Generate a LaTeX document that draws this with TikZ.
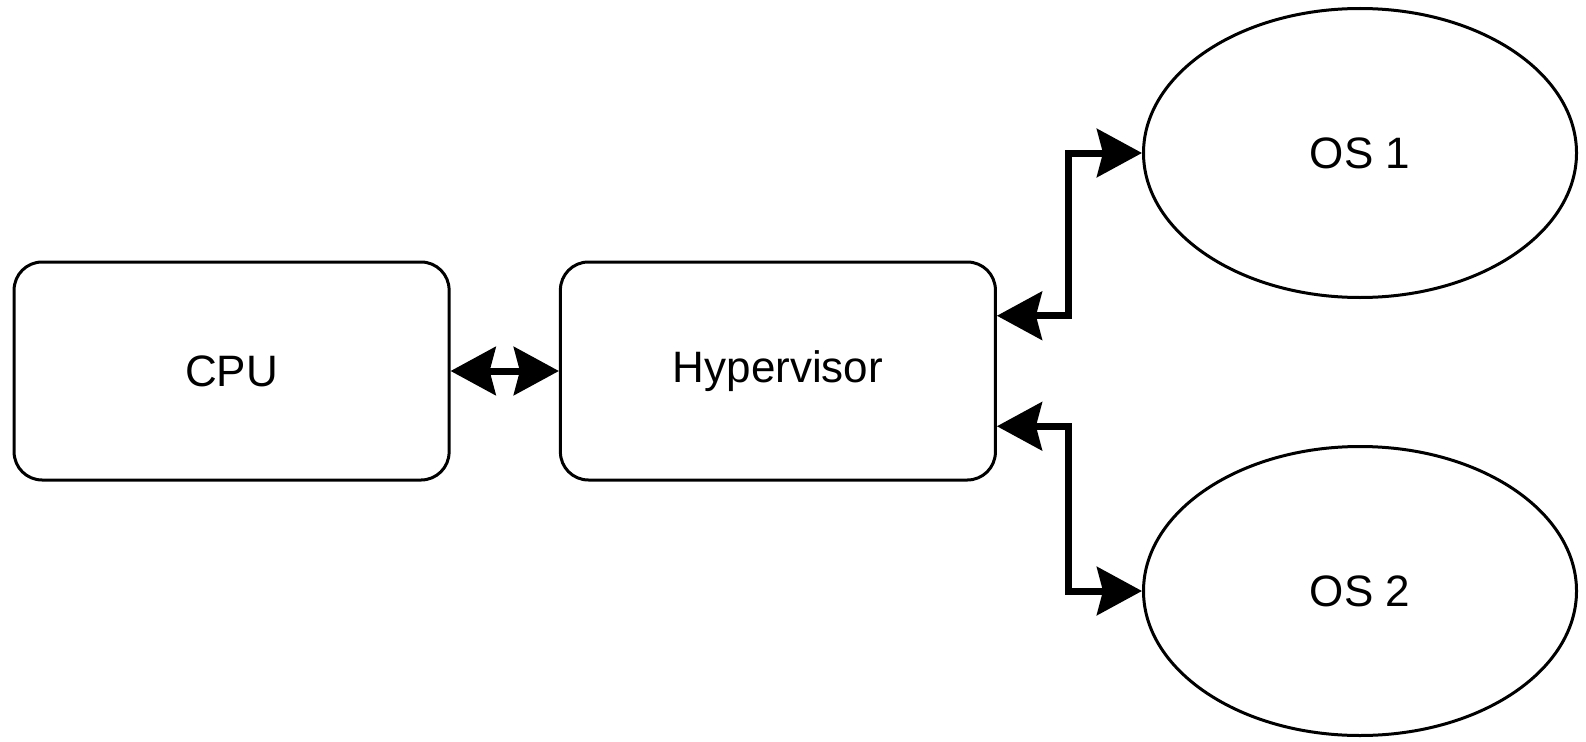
\documentclass[tikz,border=0pt]{standalone}
\usepackage{fontspec}
\setmainfont{Liberation Sans}
\usetikzlibrary{shapes.geometric,arrows.meta,calc}
\begin{document}
\begin{tikzpicture}[x=1pt,y=1pt,
  box/.style={draw, line width=3pt, rounded corners=28pt, minimum width=435pt, minimum height=218pt, inner sep=0pt, font=\fontsize{44pt}{52pt}\selectfont},
  osnode/.style={draw, ellipse, line width=3pt, minimum width=433pt, minimum height=289pt, inner sep=0pt, font=\fontsize{44pt}{52pt}\selectfont},
  conn/.style={line width=7pt, {Stealth[length=45pt, width=48pt, inset=6pt]}-{Stealth[length=45pt, width=48pt, inset=6pt]}}]
\useasboundingbox (0,0) rectangle (1586,-741);
\node[box] (cpu) at (231.6,-371) {CPU};
\node[box] (hyp) at (777.9,-371) {Hypervisor};
\node[osnode] (os1) at (1360,-153) {OS 1};
\node[osnode] (os2) at (1360,-591) {OS 2};
\draw[conn] (cpu.east) -- (hyp.west);
\coordinate (h1) at ($(hyp.north east)!0.25!(hyp.south east)$);
\coordinate (h2) at ($(hyp.north east)!0.75!(hyp.south east)$);
\draw[conn] (h1) -- ++(72,0) |- (os1.west);
\draw[conn] (h2) -- ++(72,0) |- (os2.west);
\end{tikzpicture}
\end{document}
